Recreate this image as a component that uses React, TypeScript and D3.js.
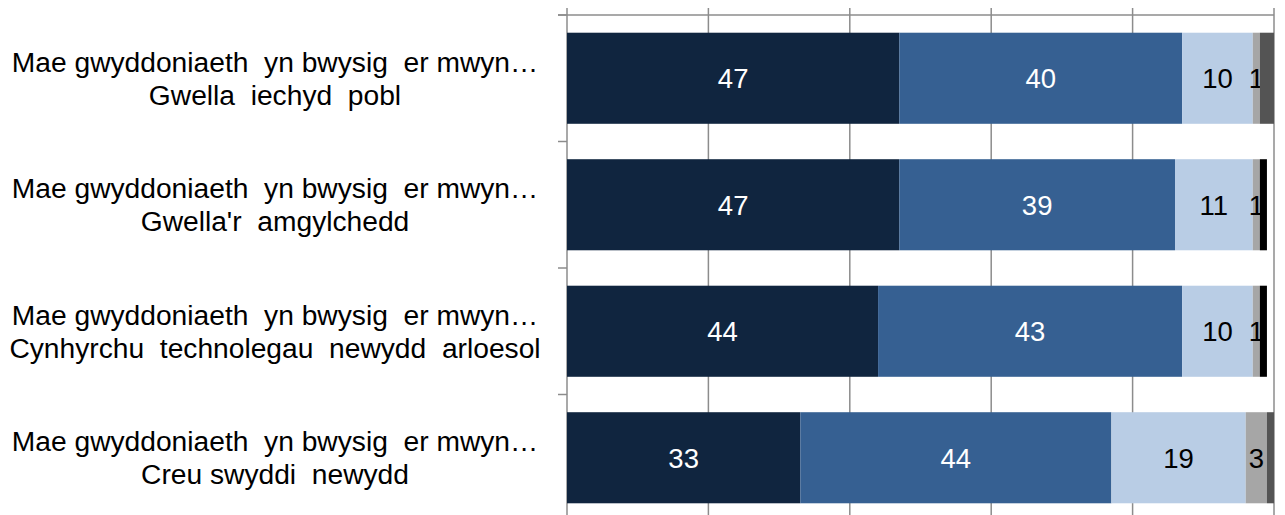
import React, { useEffect, useRef } from 'react';
import * as d3 from 'd3';

const prefix = 'Mae gwyddoniaeth  yn bwysig  er mwyn…';
const categories = [
  'Gwella  iechyd  pobl',
  "Gwella'r  amgylchedd",
  'Cynhyrchu  technolegau  newydd  arloesol',
  'Creu swyddi  newydd',
];
const seriesKeys = ['s1', 's2', 's3', 's4', 's5', 's6'];
const s1 = [47, 47, 44, 33];
const s2 = [40, 39, 43, 44];
const s3 = [10, 11, 10, 19];
const s4 = [1, 1, 1, 3];
const s5 = [0, 1, 1, 0];
const s6 = [2, 0, 0, 1];
const xTicks = [0, 20, 40, 60, 80, 100];

const colors = ['#10253f', '#366092', '#b9cde5', '#a6a6a6', '#000000', '#545454'];
const labelColors = ['#ffffff', '#ffffff', '#000000', '#000000', null, null];

// keep the double spaces of the original labels
const keepSpaces = (s: string) => s.replace(/  /g, '\u00a0 ');

const App: React.FC = () => {
  const svgRef = useRef<SVGSVGElement>(null);

  useEffect(() => {
    document.body.style.margin = '0';
    if (!svgRef.current) return;
    const svg = d3.select(svgRef.current);
    svg.selectAll('*').remove();

    const font = '"Liberation Sans", Arial, sans-serif';
    const left = 567;
    const right = 1274;
    const top = 15;
    const bottom = 521;

    const rows = categories.map((c, i) => ({
      cat: c,
      s1: s1[i], s2: s2[i], s3: s3[i], s4: s4[i], s5: s5[i], s6: s6[i],
    }));
    const stacked = d3.stack<any>().keys(seriesKeys)(rows);

    const x = d3.scaleLinear().domain([0, 100]).range([left, right]);
    const y = d3.scaleBand<string>()
      .domain(categories)
      .range([top, bottom])
      .paddingInner(0.28)
      .paddingOuter(0.14);

    const grid = '#8c8c8c';

    // vertical gridlines + outer ticks
    svg.append('g')
      .selectAll('line')
      .data(xTicks)
      .join('line')
      .attr('x1', d => x(d))
      .attr('x2', d => x(d))
      .attr('y1', top - 7)
      .attr('y2', bottom + 7)
      .attr('stroke', grid)
      .attr('stroke-width', 1.5);

    // top axis line
    svg.append('line')
      .attr('x1', left - 9).attr('x2', right)
      .attr('y1', top).attr('y2', top)
      .attr('stroke', grid).attr('stroke-width', 1.5);

    // category ticks
    const bounds = categories.map((_, i) => top + i * y.step()).concat([bottom]);
    svg.append('g')
      .selectAll('line')
      .data(bounds)
      .join('line')
      .attr('x1', left - 9).attr('x2', left)
      .attr('y1', d => d).attr('y2', d => d)
      .attr('stroke', grid).attr('stroke-width', 1.5);

    // bars
    stacked.forEach((layer, si) => {
      const g = svg.append('g');
      g.selectAll('rect')
        .data(layer)
        .join('rect')
        .attr('x', d => x(d[0]))
        .attr('width', d => x(d[1]) - x(d[0]))
        .attr('y', d => y(d.data.cat)!)
        .attr('height', y.bandwidth())
        .attr('fill', colors[si]);

      const lc = labelColors[si];
      if (lc) {
        g.selectAll('text')
          .data(layer.filter(d => d[1] - d[0] > 0))
          .join('text')
          .attr('x', d => (x(d[0]) + x(d[1])) / 2)
          .attr('y', d => y(d.data.cat)! + y.bandwidth() / 2)
          .attr('dy', '0.36em')
          .attr('text-anchor', 'middle')
          .attr('font-family', font)
          .attr('font-size', 27.5)
          .attr('fill', lc)
          .text(d => d[1] - d[0]);
      }
    });

    // category labels
    const lab = svg.append('g')
      .attr('font-family', font)
      .attr('font-size', 28.2)
      .attr('fill', '#000')
      .attr('text-anchor', 'middle');
    categories.forEach(c => {
      const cy = y(c)! + y.bandwidth() / 2;
      lab.append('text').attr('x', 275).attr('y', cy - 16.5).attr('dy', '0.36em').text(keepSpaces(prefix));
      lab.append('text').attr('x', 275).attr('y', cy + 16.5).attr('dy', '0.36em').text(keepSpaces(c));
    });
  }, []);

  return <svg ref={svgRef} width={1285} height={515} style={{ display: 'block' }} />;
};

export default App;
